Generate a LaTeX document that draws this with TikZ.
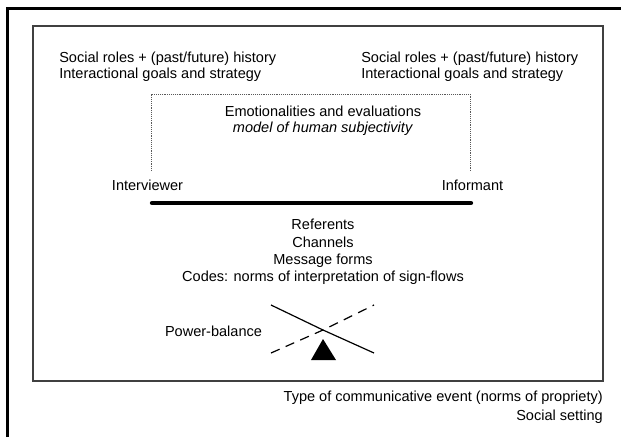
\documentclass[tikz,border=0pt]{standalone}
\usepackage{fontspec}
\setmainfont{Liberation Sans}
\usetikzlibrary{positioning}

\begin{document}
\begin{tikzpicture}[x=0.75pt, y=-0.75pt,
    txt/.style={inner sep=0pt, font=\fontsize{10.9}{12}\selectfont},
    setting/.style={line width=1.8pt},
    event/.style={draw=black!75, line width=0.9pt},
    guide/.style={draw=black!65, line width=0.6pt, dash pattern=on 0.7pt off 0.7pt},
    beam/.style={line width=0.9pt}]
    \useasboundingbox (0,0) rectangle (621,437);

    % social setting and the communicative event inside it
    \draw[setting] (7.5,437) -- (7.5,8.5) -- (621,8.5);
    \draw[event] (33,26) rectangle (603,381);

    \node[txt, anchor=west, align=left] (rolesL) at (59,67) {Social roles + (past/future) history\\Interactional goals and strategy};
    \node[txt, anchor=west, align=left] (rolesR) at (361,67) {Social roles + (past/future) history\\Interactional goals and strategy};

    \node[txt, align=center] (emo) at (323,121) {Emotionalities and evaluations\\\textit{model of human subjectivity}};

    \node[txt] (iv) at (147.5,185) {Interviewer};
    \node[txt] (inf) at (472.5,185) {Informant};

    % dotted link over the two parties
    \coordinate (ivtop) at (151,171);
    \coordinate (inftop) at (470,171);
    \draw[guide] (ivtop) -- (151,94) -- (470,94) -- (inftop);

    % the channel between them
    \coordinate (barL) at (152,203);
    \coordinate (barR) at (471,203);
    \draw[line width=3.2pt, line cap=round] (barL) -- (barR);

    \node[txt, align=center, font=\fontsize{10.9}{13}\selectfont] (msg) at (323,252)
        {Referents\\Channels\\Message forms\\Codes: norms of interpretation of sign-flows};

    % power balance
    \node[txt] (pb) at (213.5,331) {Power-balance};
    \coordinate (pivot) at (323,330);
    \draw[beam] (271,305) -- (pivot) -- (374,353);
    \draw[beam, dash pattern=on 7pt off 5pt] (271,353) -- (pivot) -- (374,305);
    \fill (323,339) -- (311,360) -- (336,360) -- cycle;

    \node[txt, anchor=east, align=right, font=\fontsize{10.9}{14.2}\selectfont] (type) at (603,407.5)
        {Type of communicative event (norms of propriety)\\Social setting};
\end{tikzpicture}
\end{document}
